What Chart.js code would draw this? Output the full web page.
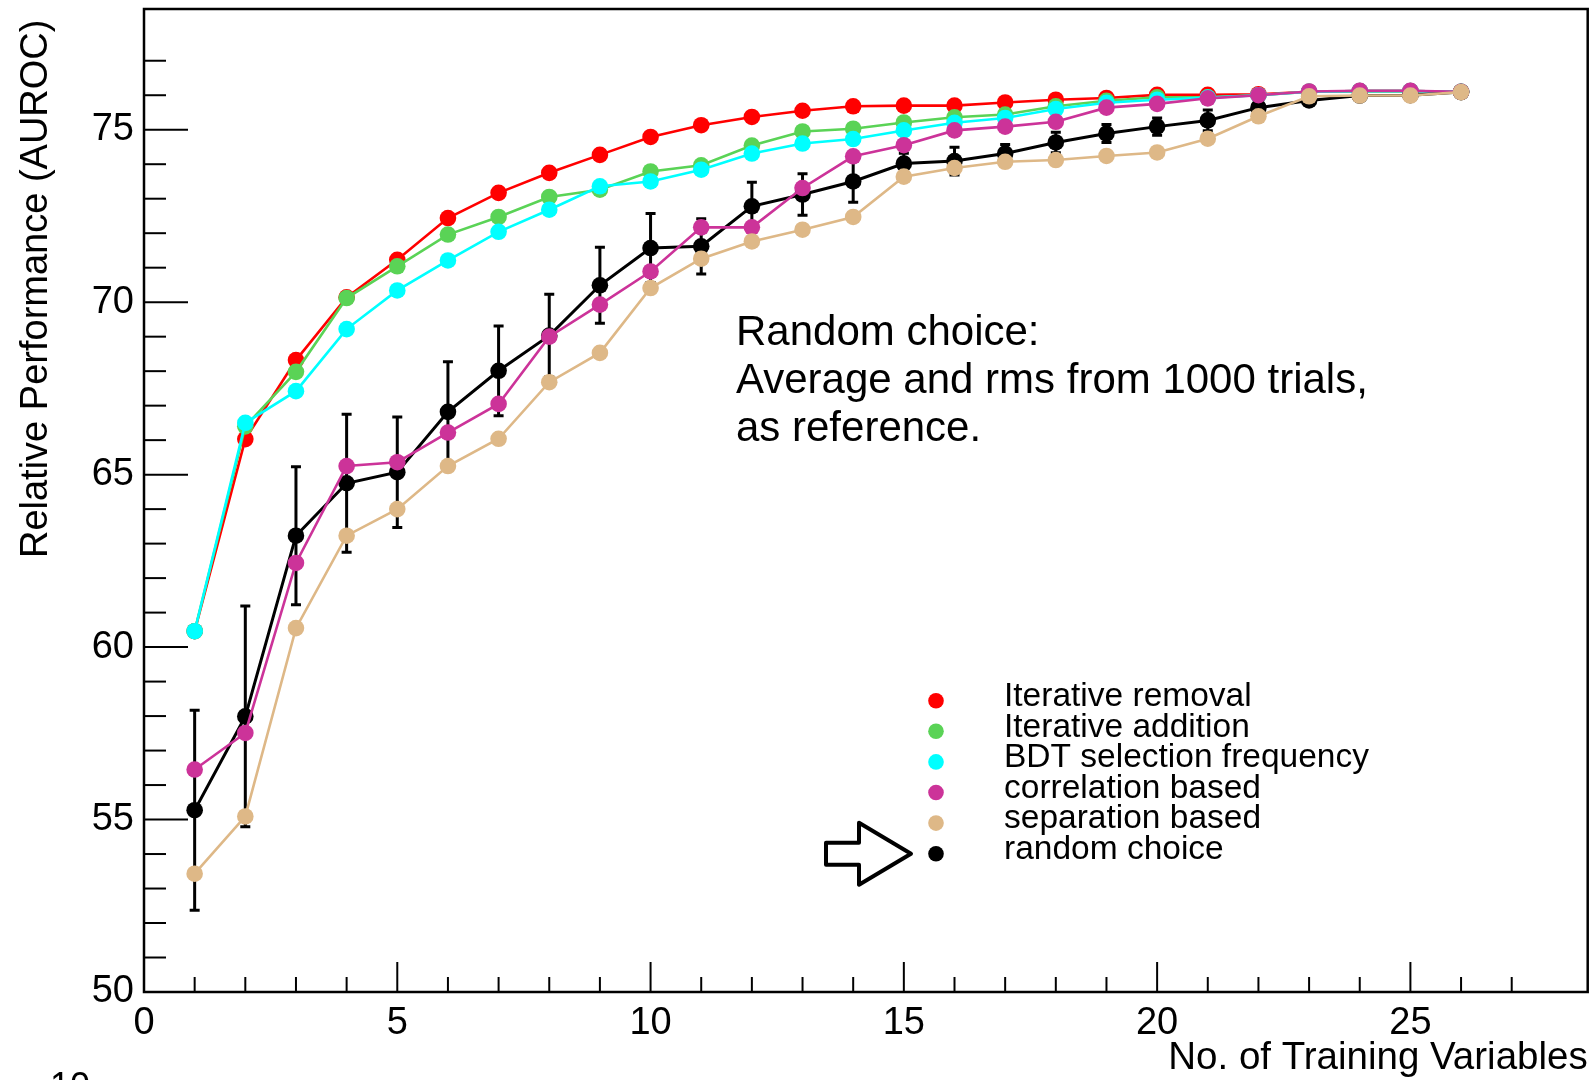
<!DOCTYPE html>
<html>
<head>
<meta charset="utf-8">
<script src="https://cdn.jsdelivr.net/npm/chart.js@4.4.1/dist/chart.umd.min.js"></script>
<style>
  html, body { margin: 0; padding: 0; background: #fff; }
  #wrap { width: 1596px; height: 1080px; }
</style>
</head>
<body>
<div id="wrap"><canvas id="aurocChart" width="1596" height="1080"></canvas></div>
<script>
// number of training variables (x)
const nVars = [1, 2, 3, 4, 5, 6, 7, 8, 9, 10, 11, 12, 13, 14, 15, 16, 17, 18, 19, 20, 21, 22, 23, 24, 25, 26];

// relative performance (AUROC) per ranking method
const iterRemoval = [60.46, 66.03, 68.32, 70.14, 71.23, 72.44, 73.17, 73.75, 74.27, 74.79, 75.13, 75.37, 75.55, 75.68, 75.70, 75.70, 75.79, 75.87, 75.92, 76.01, 76.01, 76.03, 76.10, 76.12, 76.12, 76.10];
const iterAddition = [60.46, 66.40, 67.98, 70.12, 71.04, 71.96, 72.47, 73.05, 73.26, 73.79, 73.97, 74.54, 74.95, 75.03, 75.21, 75.36, 75.44, 75.68, 75.84, 75.94, 75.94, 76.00, 76.10, 76.12, 76.12, 76.10];
const bdtFreq = [60.46, 66.50, 67.42, 69.22, 70.34, 71.21, 72.04, 72.68, 73.36, 73.50, 73.84, 74.31, 74.60, 74.73, 74.98, 75.20, 75.34, 75.60, 75.78, 75.87, 75.93, 76.00, 76.10, 76.12, 76.12, 76.10];
const corrBased = [56.45, 57.51, 62.44, 65.25, 65.36, 66.22, 67.05, 69.00, 69.93, 70.89, 72.17, 72.17, 73.31, 74.23, 74.55, 74.98, 75.09, 75.23, 75.64, 75.75, 75.91, 76.00, 76.11, 76.13, 76.13, 76.10];
const sepBased = [53.43, 55.09, 60.55, 63.23, 64.00, 65.25, 66.04, 67.68, 68.53, 70.41, 71.26, 71.76, 72.10, 72.47, 73.64, 73.89, 74.07, 74.12, 74.24, 74.34, 74.74, 75.39, 75.97, 75.99, 75.99, 76.09];
const randomAvg = [55.27, 57.99, 63.23, 64.75, 65.07, 66.82, 68.01, 69.03, 70.49, 71.57, 71.62, 72.78, 73.12, 73.50, 74.02, 74.09, 74.31, 74.63, 74.89, 75.09, 75.27, 75.64, 75.85, 75.99, 76.00, 76.09];
const randomRms = [2.9, 3.2, 2.0, 2.0, 1.6, 1.45, 1.3, 1.2, 1.1, 1.0, 0.8, 0.7, 0.6, 0.6, 0.3, 0.4, 0.26, 0.3, 0.26, 0.25, 0.3, 0.15, 0.1, 0.05, 0.05, 0.0];

const seriesNames = ['Iterative removal', 'Iterative addition', 'BDT selection frequency', 'correlation based', 'separation based', 'random choice'];
const seriesColors = ['#ff0000', '#5ad356', '#00ffff', '#cc3399', '#deb887', '#000000'];
const noteLines = ['Random choice:', 'Average and rms from 1000 trials,', 'as reference.'];

const FONT = "'Liberation Sans', Arial, Helvetica, sans-serif";
Chart.defaults.font.family = FONT;
Chart.defaults.color = '#000';

function toPoints(values) {
    return nVars.map((n, i) => ({ x: n, y: values[i] }));
}

function makeSet(idx, values, order, width) {
    return {
        label: seriesNames[idx],
        data: toPoints(values),
        borderColor: seriesColors[idx],
        backgroundColor: seriesColors[idx],
        pointBackgroundColor: seriesColors[idx],
        pointBorderWidth: 0,
        pointRadius: 8.3,
        borderWidth: width,
        tension: 0,
        order: order
    };
}

// error bars of the random choice, drawn beneath all series
const errorBars = {
    id: 'errorBars',
    beforeDatasetsDraw(chart) {
        const { ctx, scales: { x, y } } = chart;
        ctx.save();
        ctx.strokeStyle = '#000';
        ctx.lineWidth = 3;
        nVars.forEach((n, i) => {
            if (randomRms[i] <= 0) return;
            const px = x.getPixelForValue(n);
            const top = y.getPixelForValue(randomAvg[i] + randomRms[i]);
            const bot = y.getPixelForValue(randomAvg[i] - randomRms[i]);
            ctx.beginPath();
            ctx.moveTo(px, top); ctx.lineTo(px, bot);
            ctx.moveTo(px - 5, top); ctx.lineTo(px + 5, top);
            ctx.moveTo(px - 5, bot); ctx.lineTo(px + 5, bot);
            ctx.stroke();
        });
        ctx.restore();
    }
};

// frame, inner ticks, legend, note and arrow
const decorations = {
    id: 'decorations',
    afterDraw(chart) {
        const { ctx, chartArea: a, scales: { x, y } } = chart;
        ctx.save();
        ctx.strokeStyle = '#000';
        ctx.lineWidth = 2;
        x.ticks.forEach(t => {
            if (!Number.isInteger(t.value)) return;
            const px = x.getPixelForValue(t.value);
            const len = t.value % 5 === 0 ? 30 : 15;
            ctx.beginPath(); ctx.moveTo(px, a.bottom); ctx.lineTo(px, a.bottom - len); ctx.stroke();
        });
        y.ticks.forEach(t => {
            if (!Number.isInteger(t.value)) return;
            const py = y.getPixelForValue(t.value);
            const len = t.value % 5 === 0 ? 44 : 22;
            ctx.beginPath(); ctx.moveTo(a.left, py); ctx.lineTo(a.left + len, py); ctx.stroke();
        });
        ctx.lineWidth = 2.5;
        ctx.strokeRect(a.left, a.top, a.right - a.left, a.bottom - a.top);

        // note text
        ctx.fillStyle = '#000';
        ctx.font = '42px ' + FONT;
        ctx.textAlign = 'left';
        ctx.textBaseline = 'middle';
        noteLines.forEach((line, i) => ctx.fillText(line, 736, 333 + i * 48));

        // legend
        const lx = 936, ly = 700.7, step = 30.6;
        ctx.font = '33.5px ' + FONT;
        seriesNames.forEach((name, i) => {
            const cy = ly + i * step;
            ctx.fillStyle = seriesColors[i];
            ctx.beginPath(); ctx.arc(lx, cy, 7.8, 0, Math.PI * 2); ctx.fill();
            ctx.fillStyle = '#000';
            ctx.fillText(name, 1004, cy - 4);
        });

        // outline arrow pointing at the random choice entry
        const ay = ly + 5 * step;
        ctx.lineWidth = 4;
        ctx.lineJoin = 'round';
        ctx.beginPath();
        ctx.moveTo(826, ay - 11);
        ctx.lineTo(859, ay - 11);
        ctx.lineTo(859, ay - 31);
        ctx.lineTo(911, ay);
        ctx.lineTo(859, ay + 31);
        ctx.lineTo(859, ay + 11);
        ctx.lineTo(826, ay + 11);
        ctx.closePath();
        ctx.stroke();

        // cut-off label at the bottom edge
        ctx.font = '36px ' + FONT;
        ctx.textBaseline = 'top';
        ctx.fillText('10', 50, 1070);
        ctx.restore();
    }
};

const ctx = document.getElementById('aurocChart').getContext('2d');

const aurocChart = new Chart(ctx, {
    type: 'line',
    data: {
        datasets: [
            makeSet(0, iterRemoval, 5, 2.6),
            makeSet(1, iterAddition, 4, 2.6),
            makeSet(2, bdtFreq, 3, 2.6),
            makeSet(3, corrBased, 1, 2.6),
            makeSet(4, sepBased, 0, 2.6),
            makeSet(5, randomAvg, 2, 3)
        ]
    },
    options: {
        responsive: false,
        devicePixelRatio: 1,
        animation: false,
        events: [],
        layout: { padding: { top: 9, right: 4, left: 0, bottom: 0 } },
        plugins: {
            legend: { display: false },
            tooltip: { enabled: false }
        },
        scales: {
            x: {
                type: 'linear',
                position: 'bottom',
                min: 0,
                max: 28.5,
                grid: { display: false, drawTicks: false },
                border: { display: false },
                ticks: {
                    stepSize: 1,
                    autoSkip: false,
                    maxRotation: 0,
                    padding: 9,
                    font: { size: 38 },
                    color: '#000',
                    callback: v => (v % 5 === 0 ? String(v) : '')
                },
                title: {
                    display: true,
                    text: 'No. of Training Variables',
                    align: 'end',
                    color: '#000',
                    font: { size: 38.5, lineHeight: 1 },
                    padding: { top: 0, bottom: 2 }
                },
                afterFit: s => {
                    s.height = 88;
                    s.paddingLeft = 0;
                    s.paddingRight = 0;
                }
            },
            y: {
                type: 'linear',
                min: 50,
                max: 78.5,
                grid: { display: false, drawTicks: false },
                border: { display: false },
                ticks: {
                    stepSize: 1,
                    autoSkip: false,
                    padding: 10,
                    font: { size: 38 },
                    color: '#000',
                    callback: v => (v % 5 === 0 ? String(v) : '')
                },
                title: {
                    display: true,
                    // trailing space keeps the end of the title clear of the frame top
                    text: 'Relative Performance (AUROC) ',
                    align: 'end',
                    color: '#000',
                    font: { size: 38, lineHeight: 1 },
                    padding: { top: 18, bottom: 0 }
                },
                afterFit: s => {
                    s.width = 144;
                    s.paddingTop = 0;
                    s.paddingBottom = 0;
                }
            }
        }
    },
    plugins: [errorBars, decorations]
});
</script>
</body>
</html>
